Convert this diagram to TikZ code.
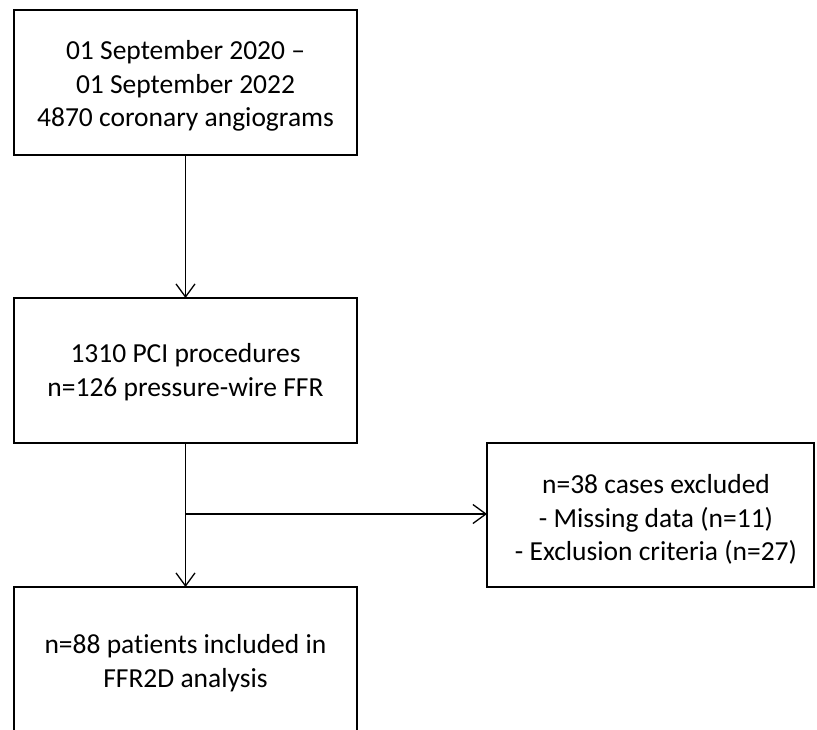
\documentclass[tikz,border=0pt]{standalone}
\usepackage{fontspec}
\setmainfont{Carlito}[RawFeature={-liga;-clig;-dlig}]
\usetikzlibrary{arrows.meta}
\begin{document}
\begin{tikzpicture}[x=1pt,y=-1pt,
  box/.style={draw,line width=2pt,inner sep=0pt,outer sep=0pt},
  txt/.style={align=center,inner sep=0pt,font=\fontsize{27.5}{33.5}\selectfont},
  conn/.style={line width=1.3pt,-{Straight Barb[length=13pt,width=19pt]}},
]
\useasboundingbox (0,0) rectangle (817,729);
\clip (0,0) rectangle (817,729);
\fill[white] (0,0) rectangle (817,729);
% boxes
\node[box,minimum width=343pt,minimum height=145pt] (b1) at (185.5,82.5) {};
\node[box,minimum width=343pt,minimum height=145pt] (b2) at (185.5,370.5) {};
\node[box,minimum width=327pt,minimum height=144pt] (b3) at (650.5,515) {};
\node[box,minimum width=343pt,minimum height=145pt] (b4) at (185.5,659.5) {};
% texts
\node[txt] (t1) at (185.5,86) {01 September 2020 –\\01 September 2022\\4870 coronary angiograms};
\node[txt] (t2) at (185.5,372.4) {1310 PCI procedures\\n=126 pressure-wire FFR};
\node[txt] (t3) at (656,519.4) {n=38 cases excluded\\- Missing data (n=11)\\- Exclusion criteria (n=27)};
\node[txt] (t4) at (185.5,663) {n=88 patients included in\\FFR2D analysis};
% connectors
\draw[conn] (b1.south) -- (b2.north);
\draw[conn] (b2.south) -- (b4.north);
\coordinate (br) at (185.5,514);
\draw[conn] (br) -- (br -| b3.west);
\end{tikzpicture}
\end{document}
